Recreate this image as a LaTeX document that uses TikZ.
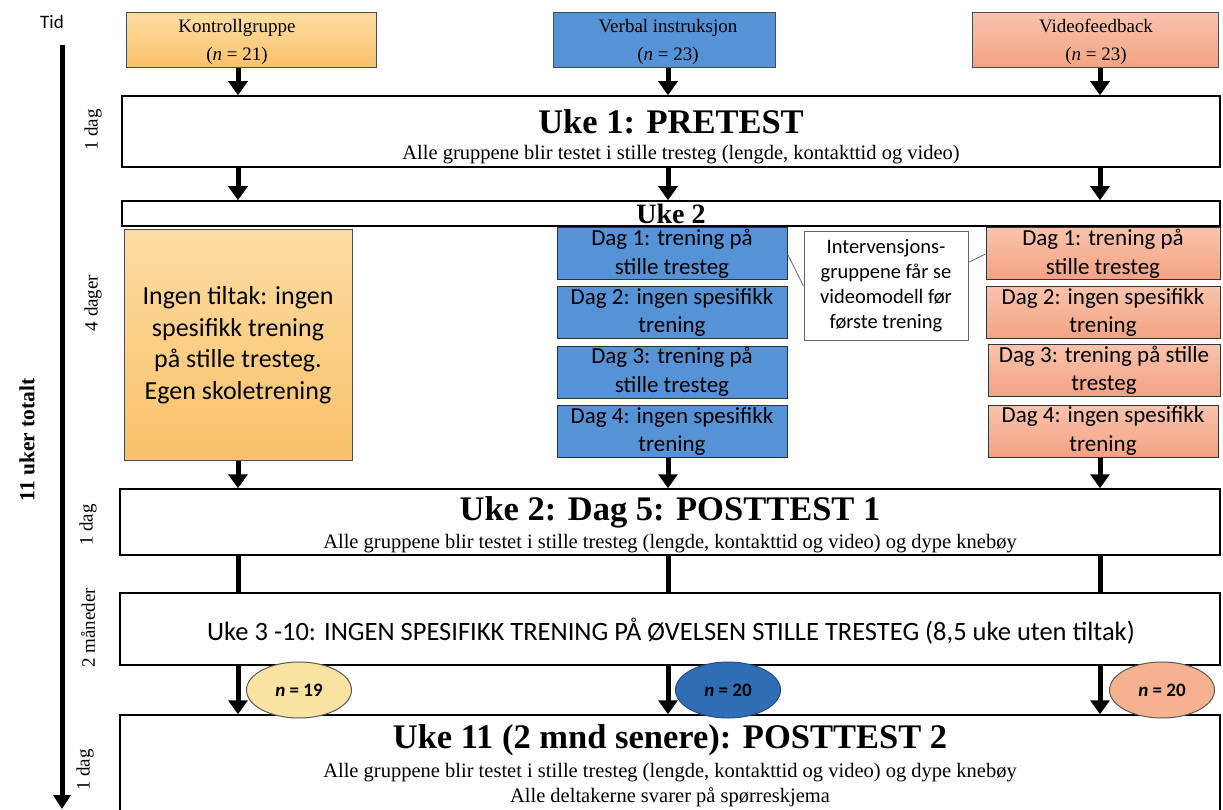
\documentclass[tikz,border=0pt]{standalone}
\usepackage{fontspec}
\setmainfont{Liberation Serif}
\newfontfamily\calibri{Carlito}
\usetikzlibrary{arrows.meta,shapes.geometric}

\definecolor{kontrolltop}{HTML}{FDDCA2}
\definecolor{kontrollbot}{HTML}{F9C169}
\definecolor{verbalblue}{HTML}{5692D6}
\definecolor{videotop}{HTML}{F9C3AC}
\definecolor{videobot}{HTML}{F3A283}
\definecolor{ellyellow}{HTML}{F9E3A2}
\definecolor{ellblue}{HTML}{2F6DB5}
\definecolor{ellsalmon}{HTML}{F6B190}

\newcommand\tstitle{\fontsize{34.5}{38}\selectfont\bfseries}
\newcommand\tssub{\fontsize{20.5}{24}\selectfont}
\newcommand\tsgroup{\fontsize{19}{28}\selectfont}
\newcommand\tsday{\calibri\fontsize{23}{28.5}\selectfont}

\begin{document}
\begin{tikzpicture}[x=1pt,y=-1pt]
\tikzstyle{every node}+=[inner sep=0pt]
\tikzstyle{stagebox}=[draw=black,line width=1.5pt,fill=white]
\tikzstyle{groupbox}=[draw=black!70,line width=1pt,minimum height=55pt,align=center,font=\tsgroup]
\tikzstyle{kontrollfill}=[top color=kontrolltop,bottom color=kontrollbot]
\tikzstyle{videofill}=[top color=videotop,bottom color=videobot]
\tikzstyle{daybox}=[draw=black!80,line width=1pt,minimum height=52pt,align=center,font=\tsday]
\tikzstyle{bigarrow}=[line width=5pt,-{Triangle[width=19pt,length=14pt]}]
\tikzstyle{bigline}=[line width=5pt]
\tikzstyle{nsize}=[ellipse,line width=1pt,minimum width=105pt,minimum height=56pt,font=\calibri\fontsize{19}{22}\selectfont\bfseries]
\tikzstyle{timelabel}=[rotate=90,font=\fontsize{19}{21}\selectfont]
\useasboundingbox (0,0) rectangle (1223,810);

% time axis
\node (tid) at (52,22) {\calibri\fontsize{19}{21}\selectfont Tid};
\coordinate (tstart) at (62,45);
\coordinate (tend) at (62,809);
\draw [line width=5pt,-{Triangle[width=17pt,length=14pt]}] (tstart) -- (tend);
\node [rotate=90] (total) at (27,440) {\fontsize{21.5}{24}\selectfont\bfseries 11 uker totalt};
\node [timelabel] (t1) at (93,130) {1 dag};
\node [timelabel] (t2) at (93,303) {4 dager};
\node [timelabel] (t3) at (88,525) {1 dag};
\node [timelabel] (t4) at (88,628) {2 måneder};
\node [timelabel] (t5) at (85,770) {1 dag};

% columns
\coordinate (c1) at (238,0);
\coordinate (c2) at (668,0);
\coordinate (c3) at (1100,0);

% groups
\node [groupbox,kontrollfill,minimum width=250pt] (kontroll) at (251,40.5) {};
\node [groupbox,fill=verbalblue,minimum width=222pt] (verbal) at (664,40.5) {};
\node [groupbox,videofill,minimum width=246pt] (video) at (1095,40.5) {};
\node [align=center,font=\tsgroup] (kontrollT) at (237,42) {Kontrollgruppe\\(\textit{n} = 21)};
\node [align=center,font=\tsgroup] (verbalT) at (668,42) {Verbal instruksjon\\(\textit{n} = 23)};
\node [align=center,font=\tsgroup] (videoT) at (1096,42) {Videofeedback\\(\textit{n} = 23)};

% pretest
\node [stagebox,minimum width=1098pt,minimum height=71pt] (pretest) at (671,131.5) {};
\node (pretestT) at (671,122) {\tstitle Uke 1: PRETEST};
\node (pretestS) at (681,155) {\tssub Alle gruppene blir testet i stille tresteg (lengde, kontakttid og video)};

% week 2
\node [stagebox,minimum width=1098pt,minimum height=25pt] (uke2) at (671,213.5) {};
\node (uke2T) at (671,214) {\fontsize{28}{30}\selectfont\bfseries Uke 2};

\node [draw=black!70,line width=1pt,kontrollfill,minimum width=228pt,minimum height=230pt,align=center,
  font=\calibri\fontsize{26}{31.5}\selectfont] (ingen) at (238,345)
  {Ingen tiltak: ingen\\spesifikk trening\\på stille tresteg.\\Egen skoletrening};

\node [daybox,fill=verbalblue,minimum width=230pt] (verbal1) at (672,254) {Dag 1: trening på\\stille tresteg};
\node [daybox,fill=verbalblue,minimum width=230pt] (verbal2) at (672,312.5) {Dag 2: ingen spesifikk\\trening};
\node [daybox,fill=verbalblue,minimum width=230pt] (verbal3) at (672,372) {Dag 3: trening på\\stille tresteg};
\node [daybox,fill=verbalblue,minimum width=230pt] (verbal4) at (672,431.5) {Dag 4: ingen spesifikk\\trening};

\node [daybox,videofill,minimum width=234pt] (video1) at (1103,254) {Dag 1: trening på\\stille tresteg};
\node [daybox,videofill,minimum width=234pt] (video2) at (1103,312.5) {Dag 2: ingen spesifikk\\trening};
\node [daybox,videofill,minimum width=232pt] (video3) at (1104,370.5) {Dag 3: trening på stille\\tresteg};
\node [daybox,videofill,minimum width=230pt] (video4) at (1103,431) {Dag 4: ingen spesifikk\\trening};

\node [draw=black!60,line width=1pt,fill=white,minimum width=164pt,minimum height=108pt,align=center,
  font=\calibri\fontsize{20.5}{25}\selectfont] (callout) at (886,286)
  {Intervensjons-\\gruppene får se\\videomodell før\\første trening};
\draw [black!60,line width=0.8pt] (verbal1.east) -- (callout.west);
\draw [black!60,line width=0.8pt] (callout.16) -- (video1.west);

% posttest 1
\node [stagebox,minimum width=1100pt,minimum height=66pt] (post1) at (670,522) {};
\node (post1T) at (670,512) {\tstitle Uke 2: Dag 5: POSTTEST 1};
\node (post1S) at (670,544) {\tssub Alle gruppene blir testet i stille tresteg (lengde, kontakttid og video) og dype knebøy};

% week 3-10
\node [stagebox,minimum width=1100pt,minimum height=72pt] (uke3) at (670,629) {};
\node (uke3T) at (671,631) {\calibri\fontsize{26.5}{30}\selectfont Uke 3 -10: INGEN SPESIFIKK TRENING PÅ ØVELSEN STILLE TRESTEG (8,5 uke uten tiltak)};

% posttest 2
\node [stagebox,minimum width=1100pt,minimum height=100pt] (post2) at (670,765) {};
\node (post2T) at (670,740) {\tstitle Uke 11 (2 mnd senere): POSTTEST 2};
\node (post2S) at (670,773) {\tssub Alle gruppene blir testet i stille tresteg (lengde, kontakttid og video) og dype knebøy};
\node (post2R) at (670,797) {\tssub Alle deltakerne svarer på spørreskjema};

% arrows
\draw [bigarrow] (kontroll.south -| c1) -- (pretest.north -| c1);
\draw [bigarrow] (verbal.south -| c2) -- (pretest.north -| c2);
\draw [bigarrow] (video.south -| c3) -- (pretest.north -| c3);
\draw [bigarrow] (pretest.south -| c1) -- (uke2.north -| c1);
\draw [bigarrow] (pretest.south -| c2) -- (uke2.north -| c2);
\draw [bigarrow] (pretest.south -| c3) -- (uke2.north -| c3);
\draw [bigarrow] (ingen.south -| c1) -- (post1.north -| c1);
\draw [bigarrow] (verbal4.south -| c2) -- (post1.north -| c2);
\draw [bigarrow] (video4.south -| c3) -- (post1.north -| c3);
\draw [bigline] (post1.south -| c1) -- (uke3.north -| c1);
\draw [bigline] (post1.south -| c2) -- (uke3.north -| c2);
\draw [bigline] (post1.south -| c3) -- (uke3.north -| c3);
\draw [bigarrow] (uke3.south -| c1) -- (post2.north -| c1);
\draw [bigarrow] (uke3.south -| c2) -- (post2.north -| c2);
\draw [bigarrow] (uke3.south -| c3) -- (post2.north -| c3);

% group sizes at posttest 2
\node [nsize,draw=black!65,fill=ellyellow] (n1) at (299,690) {\textit{n} = 19};
\node [nsize,draw=ellblue!70!black,fill=ellblue] (n2) at (728,690) {\textit{n} = 20};
\node [nsize,draw=black!65,fill=ellsalmon] (n3) at (1162,690) {\textit{n} = 20};
\end{tikzpicture}
\end{document}
